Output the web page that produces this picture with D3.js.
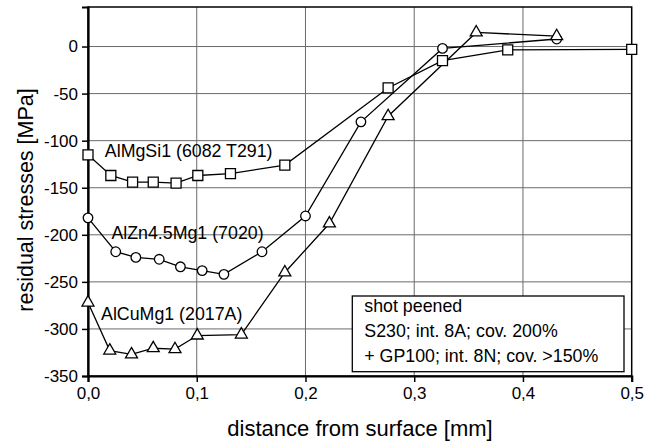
<!DOCTYPE html>
<html>
<head>
<meta charset="utf-8">
<script src="https://cdn.jsdelivr.net/npm/d3@7"></script>
<style>
  body { margin: 0; background: #fff; }
  text { font-family: "Liberation Sans", Arial, sans-serif; fill: #000; }
</style>
</head>
<body>
<div class="chart"></div>
<script>
// depth [mm] / residual stress [MPa]
const sqX  = [0, 0.021, 0.041, 0.060, 0.081, 0.101, 0.131, 0.181, 0.276, 0.326, 0.386, 0.5];
const sqY  = [-115, -137, -144, -144, -145, -137, -135, -126, -44, -15, -3.5, -3];
const ciX  = [0, 0.0255, 0.044, 0.0655, 0.085, 0.105, 0.125, 0.16, 0.2, 0.251, 0.326, 0.431];
const ciY  = [-182, -218, -224, -226, -234, -238, -242, -218, -180, -80, -2, 8];
const trX  = [0, 0.020, 0.040, 0.060, 0.080, 0.1005, 0.141, 0.181, 0.222, 0.276, 0.357, 0.431];
const trY  = [-272, -323, -327, -320.5, -321.5, -307, -306, -240, -188, -74, 15, 11];

const xTicks = [0, 0.1, 0.2, 0.3, 0.4, 0.5];
const yTicks = [0, -50, -100, -150, -200, -250, -300, -350];
const gridY = [0, -50, -100, -150, -200, -250, -300];
const gridX = [0.1, 0.2, 0.3, 0.4];

const seriesLabels = [
    {text: "AlMgSi1 (6082 T291)", x: 0.0155, y: -111},
    {text: "AlZn4.5Mg1 (7020)", x: 0.0215, y: -198},
    {text: "AlCuMg1 (2017A)", x: 0.012, y: -284}
];
const legendLines = ["shot peened", "S230; int. 8A; cov. 200%", "+ GP100; int. 8N; cov. >150%"];

let margin = {top: 7, left: 88, right: 23.3, bottom: 67};
let W = 655, H = 443;
let width = W - margin.left - margin.right;
let height = H - margin.top - margin.bottom;

let svg = d3.select(".chart").append("svg")
            .attr("width", W)
            .attr("height", H);
let g = svg.append("g")
           .attr("transform", "translate(" + margin.left + "," + margin.top + ")");

let x = d3.scaleLinear().domain([0, 0.5]).range([0, width]);
let y = d3.scaleLinear().domain([-350, 42]).range([height, 0]);

// grid
g.append("g").selectAll("line").data(gridY).enter().append("line")
 .attr("x1", 0).attr("x2", width)
 .attr("y1", d => y(d)).attr("y2", d => y(d))
 .attr("stroke", "#6a6a6a").attr("stroke-width", 1);
g.append("g").selectAll("line").data(gridX).enter().append("line")
 .attr("x1", d => x(d)).attr("x2", d => x(d))
 .attr("y1", 0).attr("y2", height)
 .attr("stroke", "#6a6a6a").attr("stroke-width", 1);

// frame
g.append("rect").attr("width", width).attr("height", height)
 .attr("fill", "none").attr("stroke", "#000").attr("stroke-width", 1.5);

// axes
let fmt = d => d3.format(".1f")(d).replace(".", ",");
let xAxis = g.append("g").attr("transform", "translate(0," + height + ")")
             .call(d3.axisBottom(x).tickValues(xTicks).tickFormat(fmt).tickSize(6).tickPadding(5));
let yAxis = g.append("g")
             .call(d3.axisLeft(y).tickValues(yTicks).tickFormat(d3.format("d")).tickSize(6).tickPadding(4));
[xAxis, yAxis].forEach(a => {
    a.select(".domain").attr("stroke", "#000").attr("stroke-width", 2.2);
    a.selectAll(".tick line").attr("stroke", "#000").attr("stroke-width", 1.5);
    a.selectAll(".tick text").style("font-size", "17px").attr("fill", "#000");
});
// plain hyphen for the minus sign, like the original
yAxis.selectAll(".tick text").text(d => String(d));

// series
let series = [
    {xs: sqX, ys: sqY, shape: "square"},
    {xs: ciX, ys: ciY, shape: "circle"},
    {xs: trX, ys: trY, shape: "triangle"}
];
let line = d3.line().x(d => x(d[0])).y(d => y(d[1]));
let symbols = {square: d3.symbolSquare, circle: d3.symbolCircle, triangle: d3.symbolTriangle};
let sizes = {square: 100, circle: 72, triangle: 62};

series.forEach(s => {
    let pts = s.xs.map((v, i) => [v, s.ys[i]]);
    g.append("path").datum(pts).attr("d", line)
     .attr("fill", "none").attr("stroke", "#000").attr("stroke-width", 1.3);
});
series.forEach(s => {
    let pts = s.xs.map((v, i) => [v, s.ys[i]]);
    let sym = d3.symbol().type(symbols[s.shape]).size(sizes[s.shape]);
    g.append("g").selectAll("path").data(pts).enter().append("path")
     .attr("d", sym)
     .attr("transform", d => "translate(" + x(d[0]) + "," + y(d[1]) + ")")
     .attr("fill", "#fff").attr("stroke", "#000").attr("stroke-width", 1.3);
});

// series labels
g.append("g").selectAll("text").data(seriesLabels).enter().append("text")
 .attr("x", d => x(d.x)).attr("y", d => y(d.y))
 .attr("dy", "0.35em")
 .style("font-size", "17.8px")
 .text(d => d.text);

// legend box
let lg = g.append("g").attr("transform", "translate(" + (352.3 - margin.left) + "," + (296 - margin.top) + ")");
lg.append("rect").attr("width", 271.7).attr("height", 75.7)
  .attr("fill", "#fff").attr("stroke", "#000").attr("stroke-width", 1.3);
lg.selectAll("text").data(legendLines).enter().append("text")
  .attr("x", 12).attr("y", (d, i) => 10 + i * 24.8)
  .attr("dy", "0.35em")
  .style("font-size", "17.8px")
  .text(d => d);

// axis titles
svg.append("text")
   .attr("x", 360).attr("y", 428)
   .attr("dy", "0.35em").attr("text-anchor", "middle")
   .style("font-size", "22px")
   .text("distance from surface [mm]");
svg.append("text")
   .attr("transform", "translate(25," + 200 + ") rotate(-90)")
   .attr("dy", "0.35em").attr("text-anchor", "middle")
   .style("font-size", "21.5px")
   .text("residual stresses [MPa]");
</script>
</body>
</html>
